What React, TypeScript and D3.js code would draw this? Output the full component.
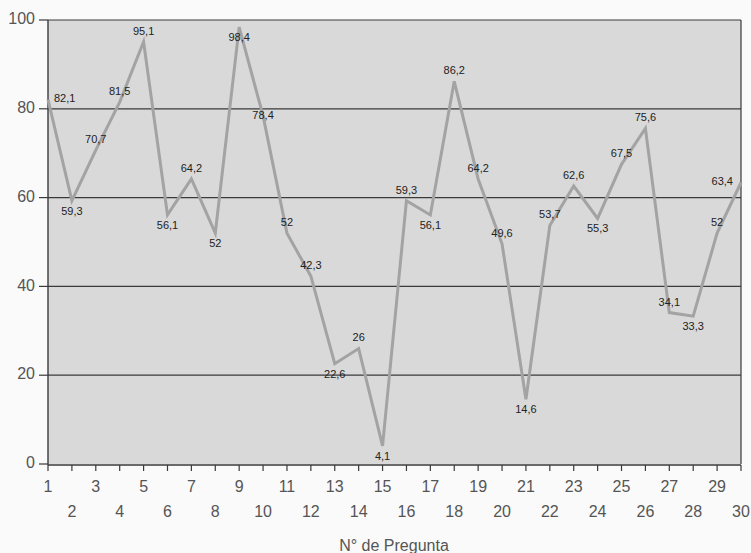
import React from "react";
import * as d3 from "d3";

const questions: number[] = d3.range(1, 31);
const values: number[] = [
  82.1, 59.3, 70.7, 81.5, 95.1, 56.1, 64.2, 52, 98.4, 78.4,
  52, 42.3, 22.6, 26, 4.1, 59.3, 56.1, 86.2, 64.2, 49.6,
  14.6, 53.7, 62.6, 55.3, 67.5, 75.6, 34.1, 33.3, 52, 63.4,
];
const valueLabels: string[] = values.map((v) => String(v).replace(".", ","));
const yTicks: number[] = [0, 20, 40, 60, 80, 100];
const xTitle = "N° de Pregunta";
// label placement relative to each point (style)
const placement: string[] = [
  "right", "below", "above", "above", "above", "below", "above", "below", "below", "center",
  "above", "above", "below", "above", "below", "above", "below", "above", "above", "above",
  "below", "above", "above", "below", "above", "above", "above", "below", "above", "left",
];

const W = 751;
const H = 553;
const L = 48, R = 741, T = 20, B = 464;

export default function App() {
  const x = d3.scaleLinear().domain([1, 30]).range([L, R]);
  const y = d3.scaleLinear().domain([0, 100]).range([B, T]);
  const line = d3
    .line<number>()
    .x((_, i) => x(questions[i]))
    .y((d) => y(d));
  const font = "'Liberation Sans', Arial, sans-serif";

  return (
    <svg
      width={W}
      height={H}
      style={{ position: "absolute", left: 0, top: 0, background: "#fafafa" }}
      fontFamily={font}
    >
      <rect x={L} y={T} width={R - L} height={B - T} fill="#d9d9d9" />
      {yTicks.map((t) => (
        <g key={t}>
          {t > 0 && (
            <line x1={L} x2={R} y1={y(t)} y2={y(t)} stroke="#3a3a3a" strokeWidth={1.2} />
          )}
          <line x1={L - 9} x2={L} y1={y(t)} y2={y(t)} stroke="#3a3a3a" strokeWidth={1.2} />
          <text
            x={35}
            y={y(t)}
            textAnchor="end"
            dominantBaseline="middle"
            fontSize={16}
            fill="#555"
          >
            {t}
          </text>
        </g>
      ))}
      <line x1={R} x2={R} y1={T} y2={B} stroke="#3a3a3a" strokeWidth={1.2} />
      <line x1={L} x2={L} y1={T} y2={B + 1} stroke="#3a3a3a" strokeWidth={1.4} />
      <line x1={L} x2={R} y1={B + 1} y2={B + 1} stroke="#3a3a3a" strokeWidth={1.4} />
      {questions.map((q) => (
        <g key={q}>
          <line x1={x(q)} x2={x(q)} y1={B + 1} y2={B + 7} stroke="#3a3a3a" strokeWidth={1.2} />
          <text
            x={x(q)}
            y={q % 2 === 1 ? 492 : 517}
            textAnchor="middle"
            fontSize={16}
            fill="#555"
          >
            {q}
          </text>
        </g>
      ))}
      <path d={line(values) || ""} fill="none" stroke="#a3a3a3" strokeWidth={3} strokeLinejoin="miter" />
      {values.map((v, i) => {
        const px = x(questions[i]);
        const py = y(v);
        const p = placement[i];
        let tx = px, ty = py, anchor: "middle" | "start" | "end" = "middle";
        if (p === "above") ty = py - 10;
        else if (p === "below") ty = py + 11;
        else if (p === "right") { tx = px + 6; anchor = "start"; }
        else if (p === "left") { tx = px - 8; anchor = "end"; }
        return (
          <text
            key={i}
            x={tx}
            y={ty}
            textAnchor={anchor}
            dominantBaseline="middle"
            fontSize={11}
            fill="#222"
          >
            {valueLabels[i]}
          </text>
        );
      })}
      <text x={394} y={551} textAnchor="middle" fontSize={16} fill="#555">
        {xTitle}
      </text>
    </svg>
  );
}
